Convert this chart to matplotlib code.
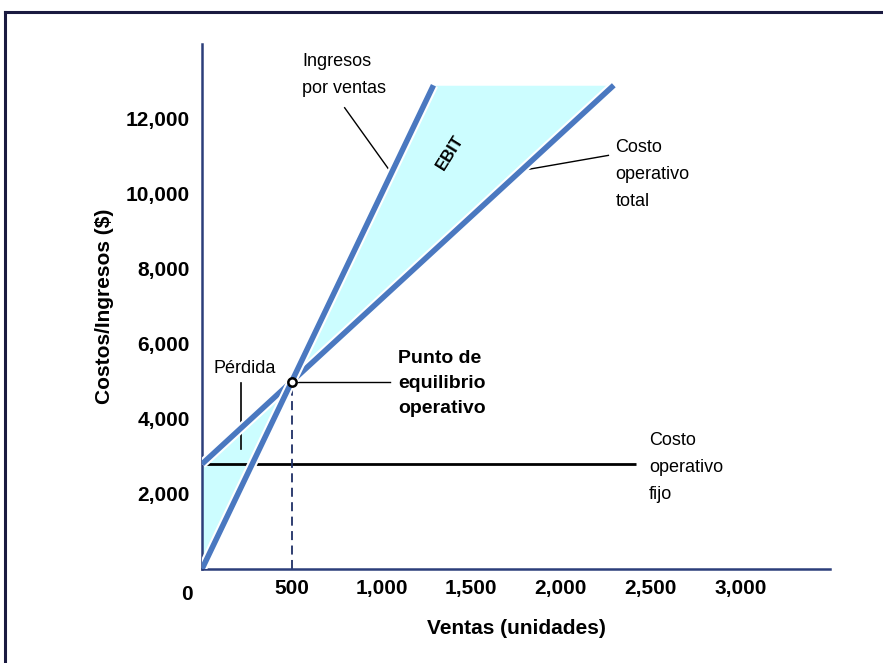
import numpy as np
import matplotlib
matplotlib.use("Agg")
import matplotlib.pyplot as plt
import matplotlib.patheffects as pe
from matplotlib.lines import Line2D

# ---- data ----
rev_units = [0, 1290]
revenue = [0, 12900]
cost_units = [0, 2295]
total_cost = [2800, 12900]
fixed_units = [0, 2420]
fixed_cost = [2800, 2800]
break_even_units = 500
break_even_value = 5000
cap_value = 12900

x_ticks = [500, 1000, 1500, 2000, 2500, 3000]
x_ticklabels = ["500", "1,000", "1,500", "2,000", "2,500", "3,000"]
y_ticks = [2000, 4000, 6000, 8000, 10000, 12000]
y_ticklabels = ["2,000", "4,000", "6,000", "8,000", "10,000", "12,000"]

plt.rcParams['font.family'] = ['Liberation Sans', 'DejaVu Sans']

LINE = '#4a78c0'
FILL = '#ccfdff'
AXC = '#2c3e7a'

fig = plt.figure(figsize=(8.83, 6.63), dpi=100)
ax = fig.add_axes([202/883, 1-569/663, (830-202)/883, (569-44)/663])
ax.set_xlim(0, 3500)
ax.set_ylim(0, 14000)

# fills
xs_ebit = np.array([break_even_units, rev_units[1], cost_units[1]])
upper = np.minimum(np.interp(xs_ebit, rev_units, revenue, right=cap_value), cap_value)
lower = np.interp(xs_ebit, cost_units, total_cost)
ax.fill_between(xs_ebit, lower, upper, color=FILL, lw=0, zorder=1)
xs_loss = np.array([0, break_even_units])
ax.fill_between(xs_loss, np.interp(xs_loss, rev_units, revenue),
                np.interp(xs_loss, cost_units, total_cost), color=FILL, lw=0, zorder=1)

halo = [pe.Stroke(linewidth=7, foreground='white'), pe.Normal()]
ax.plot(fixed_units, fixed_cost, color='black', lw=2, zorder=2, solid_capstyle='butt')
ax.plot(cost_units, total_cost, color=LINE, lw=4, zorder=3, path_effects=halo, solid_capstyle='butt')
ax.plot(rev_units, revenue, color=LINE, lw=4, zorder=4, path_effects=halo, solid_capstyle='butt')

ax.plot([break_even_units, break_even_units], [0, break_even_value], color='#1f2f66',
        lw=1.3, ls=(0, (5, 3)), zorder=2)
ax.plot([break_even_units], [break_even_value], 'o', ms=6, mfc='white', mec='black', mew=1.8, zorder=6)

# spines
for s in ['top', 'right']:
    ax.spines[s].set_visible(False)
for s in ['left', 'bottom']:
    ax.spines[s].set_color(AXC)
    ax.spines[s].set_linewidth(1.8)

ax.set_xticks(x_ticks)
ax.set_xticklabels(x_ticklabels)
ax.set_yticks(y_ticks)
ax.set_yticklabels(y_ticklabels)
ax.tick_params(axis='x', length=0, labelsize=15, pad=7)
ax.tick_params(axis='y', length=0, labelsize=15, pad=9)
for t in ax.get_xticklabels() + ax.get_yticklabels():
    t.set_fontweight('bold')
ax.text(-85, -430, "0", ha='center', va='top', fontsize=15, fontweight='bold')

ax.set_xlabel("Ventas (unidades)", fontsize=15, fontweight='bold', labelpad=15)
ax.set_ylabel("Costos/Ingresos ($)", fontsize=15, fontweight='bold', labelpad=8)

# annotations
ax.text(560, 13180, "Ingresos\npor ventas", fontsize=13, ha='left', va='center', linespacing=1.75)
ax.plot([795, 1045], [12300, 10630], color='black', lw=1)
ax.text(1380, 11100, "EBIT", fontsize=12, fontweight='bold', rotation=58, ha='center', va='center')
ax.text(2305, 10520, "Costo\noperativo\ntotal", fontsize=13, ha='left', va='center', linespacing=1.75)
ax.plot([2265, 1750], [11030, 10600], color='black', lw=1)
ax.text(65, 5350, "Pérdida", fontsize=13, ha='left', va='center')
ax.plot([220, 220], [4970, 3200], color='black', lw=1.2)
ax.text(1095, 4950, "Punto de\nequilibrio\noperativo", fontsize=14, fontweight='bold',
        ha='left', va='center', linespacing=1.6)
ax.plot([520, 1050], [break_even_value, break_even_value], color='black', lw=1)
ax.text(2490, 2700, "Costo\noperativo\nfijo", fontsize=13, ha='left', va='center', linespacing=1.75)

# outer frame
fig.add_artist(Line2D([5/883, 5/883], [0, 1-12/663], color='#1a1a40', lw=2.2, transform=fig.transFigure))
fig.add_artist(Line2D([5/883, 1], [1-12/663, 1-12/663], color='#1a1a40', lw=2.2, transform=fig.transFigure))

fig.savefig("out.png", dpi=100)
